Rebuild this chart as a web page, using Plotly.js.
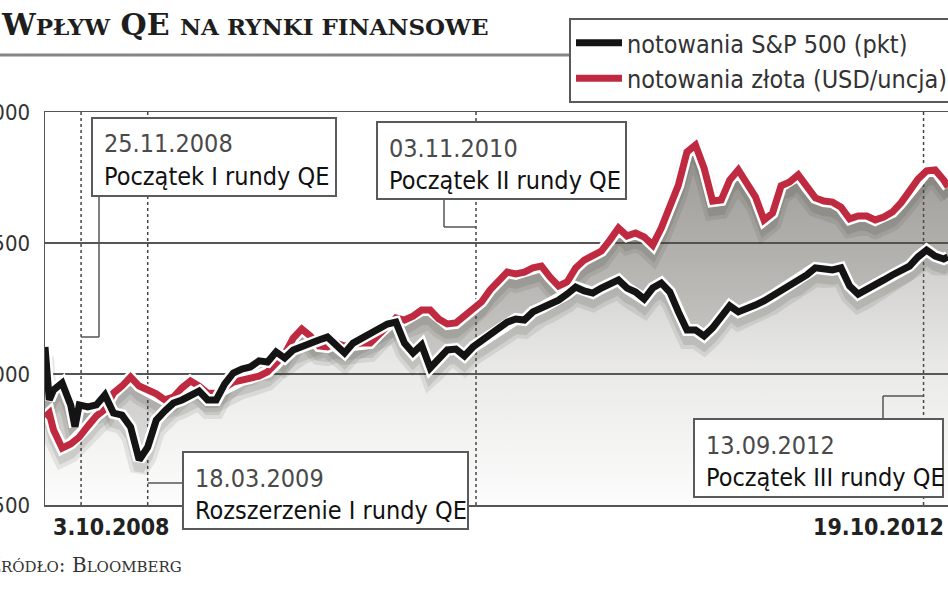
<!DOCTYPE html>
<html><head><meta charset="utf-8">
<script src="https://cdn.plot.ly/plotly-3.0.1.min.js"></script>
<style>html,body{margin:0;padding:0;background:#fff;overflow:hidden}#chart{width:948px;height:593px}</style>
</head><body><div id="chart"></div>
<script>
// ---------------- data ----------------
const dates = ['2008-10-03','2008-10-10','2008-10-17','2008-10-31','2008-11-14','2008-11-21','2008-11-28','2008-12-12','2008-12-26','2009-01-09','2009-01-23','2009-02-06','2009-02-20','2009-03-06','2009-03-20','2009-04-03','2009-04-17','2009-05-01','2009-05-15','2009-05-29','2009-06-12','2009-06-26','2009-07-10','2009-07-24','2009-08-07','2009-08-21','2009-09-04','2009-09-18','2009-10-02','2009-10-16','2009-10-30','2009-11-13','2009-11-27','2009-12-11','2009-12-25','2010-01-08','2010-01-22','2010-02-05','2010-02-19','2010-03-05','2010-03-19','2010-04-02','2010-04-16','2010-04-30','2010-05-14','2010-05-28','2010-06-11','2010-06-25','2010-07-09','2010-07-23','2010-08-06','2010-08-20','2010-09-03','2010-09-17','2010-10-01','2010-10-15','2010-10-29','2010-11-12','2010-11-26','2010-12-10','2010-12-24','2011-01-07','2011-01-21','2011-02-04','2011-02-18','2011-03-04','2011-03-18','2011-04-01','2011-04-15','2011-04-29','2011-05-13','2011-05-27','2011-06-10','2011-06-24','2011-07-08','2011-07-22','2011-08-05','2011-08-19','2011-09-02','2011-09-16','2011-09-30','2011-10-14','2011-10-28','2011-11-11','2011-11-25','2011-12-09','2011-12-23','2012-01-06','2012-01-20','2012-02-03','2012-02-17','2012-03-02','2012-03-16','2012-03-30','2012-04-13','2012-04-27','2012-05-11','2012-05-25','2012-06-08','2012-06-22','2012-07-06','2012-07-20','2012-08-03','2012-08-17','2012-08-31','2012-09-14','2012-09-28','2012-10-12','2012-10-19'];

const sp500 = [1103,901,939,966,882,798,882,874,882,920,851,843,798,672,721,824,859,889,901,920,935,901,901,962,1004,1019,1027,1050,1046,1084,1061,1092,1107,1122,1130,1141,1107,1080,1118,1137,1160,1176,1191,1198,1118,1080,1111,1023,1053,1092,1095,1069,1103,1126,1149,1168,1198,1210,1206,1237,1252,1267,1282,1305,1332,1317,1309,1328,1343,1359,1328,1313,1286,1328,1347,1313,1237,1168,1168,1145,1176,1214,1260,1237,1248,1263,1279,1298,1321,1343,1355,1378,1405,1401,1397,1405,1336,1305,1321,1343,1359,1378,1393,1412,1447,1473,1450,1439,1447];

const gold = [836,851,786,717,733,748,759,801,840,866,927,954,988,954,939,924,901,912,947,973,954,927,927,947,969,977,985,992,1008,1038,1076,1137,1172,1145,1107,1103,1118,1107,1114,1118,1118,1153,1183,1214,1206,1221,1244,1244,1210,1191,1195,1221,1252,1275,1321,1355,1389,1382,1389,1405,1412,1370,1336,1351,1405,1435,1450,1469,1511,1557,1527,1538,1523,1492,1557,1637,1721,1847,1874,1786,1660,1664,1740,1779,1721,1676,1588,1614,1718,1733,1760,1714,1672,1660,1656,1637,1592,1603,1603,1588,1599,1618,1653,1698,1744,1775,1779,1740,1714];

const seriesNames = ['notowania S&P 500 (pkt)', 'notowania złota (USD/uncja)'];
const yTicks = [500, 1000, 1500, 2000];
const xRange = ['2008-10-03', '2012-10-19'];
const xEndLabels = ['3.10.2008', '19.10.2012'];
const eventLines = ['2008-12-01', '2009-03-20', '2010-09-08', '2012-09-09'];
const eventDates = ['25.11.2008', '18.03.2009', '03.11.2010', '13.09.2012'];
const eventTexts = ['Początek I rundy QE', 'Rozszerzenie I rundy QE', 'Początek II rundy QE', 'Początek III rundy QE'];
const titleText = 'W<span style="font-size:23px">PŁYW</span> QE <span style="font-size:23px">NA RYNKI FINANSOWE</span>';
const sourceText = 'Ź<span style="font-size:15px">RÓDŁO</span>: B<span style="font-size:15px">LOOMBERG</span>';

// ---------------- layout helpers (pixel -> paper) ----------------
const PL = 45, PR = 948, PT = 112, PB = 505;
const px = x => (x - PL) / (PR - PL);
const py = y => (PB - y) / (PB - PT);
const t0 = Date.parse(xRange[0]), t1 = Date.parse(xRange[1]);
const dateToPaper = d => (Date.parse(d) - t0) / (t1 - t0);

const NARROW = "'DejaVu Sans Condensed', 'DejaVu Sans', sans-serif";
const SERIF = "'DejaVu Serif', serif";
const BLACK = '#141414', RED = '#bf2a40';

// ---------------- traces ----------------
const common = {x: dates, type: 'scatter', mode: 'lines', hoverinfo: 'skip', showlegend: false};
const traces = [
  Object.assign({}, common, {y: sp500, line: {width: 0, color: 'rgba(0,0,0,0)'}, fill: 'tozeroy',
    fillgradient: {type: 'vertical', start: 500, stop: 1500,
      colorscale: [[0, 'rgba(110,108,100,0.02)'], [0.5, 'rgba(110,108,100,0.14)'], [1, 'rgba(110,108,100,0.36)']]}}),
  Object.assign({}, common, {y: gold, line: {width: 0, color: 'rgba(0,0,0,0)'}, fill: 'tonexty',
    fillgradient: {type: 'vertical', start: 700, stop: 1900,
      colorscale: [[0, 'rgba(80,78,70,0.2)'], [1, 'rgba(80,78,70,0.58)']]}}),
  // soft shadows (drawn on a shifted, hidden axis)
  Object.assign({}, common, {y: gold, yaxis: 'y2', line: {width: 18, color: 'rgba(50,48,40,0.10)'}}),
  Object.assign({}, common, {y: gold, yaxis: 'y2', line: {width: 10, color: 'rgba(50,48,40,0.12)'}}),
  Object.assign({}, common, {y: sp500, yaxis: 'y2', line: {width: 18, color: 'rgba(50,48,40,0.10)'}}),
  Object.assign({}, common, {y: sp500, yaxis: 'y2', line: {width: 10, color: 'rgba(50,48,40,0.12)'}}),
  // halos and lines
  Object.assign({}, common, {y: gold, yaxis: 'y3', line: {width: 12, color: '#ffffff'}}),
  Object.assign({}, common, {y: gold, yaxis: 'y3', name: seriesNames[1], showlegend: true, legendrank: 2, legendgroup: 'g',
    line: {width: 7, color: RED}}),
  Object.assign({}, common, {y: sp500, yaxis: 'y3', line: {width: 12, color: '#ffffff'}}),
  Object.assign({}, common, {y: sp500, yaxis: 'y3', name: seriesNames[0], showlegend: true, legendrank: 1, legendgroup: 's',
    line: {width: 7, color: BLACK}})
];

// ---------------- shapes & annotations ----------------
const shapes = [];
const annotations = [];

// title rule
shapes.push({type: 'line', xref: 'paper', yref: 'paper', x0: px(-5), x1: px(569), y0: py(55), y1: py(55),
  line: {color: '#858585', width: 3}, layer: 'above'});

// event dashed lines
eventLines.forEach(d => shapes.push({type: 'line', xref: 'x', yref: 'paper', x0: d, x1: d, y0: 0, y1: 1,
  line: {color: '#454545', width: 1.5, dash: '3px,3px'}, layer: 'between'}));

// callout boxes (pixel rectangles) and leaders
const boxes = [
  {l: 92, t: 118, r: 336, b: 196},
  {l: 183, t: 452, r: 468, b: 529},
  {l: 377, t: 122, r: 626, b: 199},
  {l: 694, t: 419, r: 943, b: 497}
];
const leaders = [
  [[99, 196], [99, 337], ['e', 337]],
  [['e', 483], [183, 483]],
  [[444, 199], [444, 227], ['e', 227]],
  [[883, 419], [883, 396], ['e', 396]]
];
boxes.forEach((b, i) => {
  const ex = dateToPaper(eventLines[i]);
  const pts = leaders[i].map(p => [p[0] === 'e' ? ex : px(p[0]), py(p[1])]);
  for (let k = 0; k < pts.length - 1; k++) {
    shapes.push({type: 'line', xref: 'paper', yref: 'paper', x0: pts[k][0], y0: pts[k][1], x1: pts[k + 1][0], y1: pts[k + 1][1],
      line: {color: '#555', width: 1.5}, layer: 'above'});
  }
  shapes.push({type: 'rect', xref: 'paper', yref: 'paper', x0: px(b.l), x1: px(b.r), y0: py(b.b), y1: py(b.t),
    fillcolor: '#ffffff', line: {color: '#5a5a5a', width: 2}, layer: 'above'});
  annotations.push({xref: 'paper', yref: 'paper', x: px(b.l + 10), y: py(b.t + 26), xanchor: 'left', yanchor: 'middle',
    text: eventDates[i], showarrow: false, font: {family: NARROW, size: 25, color: '#4a4a4a'}});
  annotations.push({xref: 'paper', yref: 'paper', x: px(b.l + 10), y: py(b.t + 58), xanchor: 'left', yanchor: 'middle',
    text: eventTexts[i], showarrow: false, font: {family: NARROW, size: 25, color: '#111'}});
});

// axis end labels
annotations.push({xref: 'x', yref: 'paper', x: xRange[0], xanchor: 'left', xshift: 6, y: py(527), yanchor: 'middle',
  text: '<b>' + xEndLabels[0] + '</b>', showarrow: false, font: {family: NARROW, size: 23, color: '#222'}});
annotations.push({xref: 'x', yref: 'paper', x: xRange[1], xanchor: 'right', xshift: -2, y: py(527), yanchor: 'middle',
  text: '<b>' + xEndLabels[1] + '</b>', showarrow: false, font: {family: NARROW, size: 23, color: '#222'}});

// title
annotations.push({xref: 'paper', yref: 'paper', x: px(-1), y: py(24), xanchor: 'left', yanchor: 'middle',
  text: '<b>' + titleText + '</b>', showarrow: false, font: {family: SERIF, size: 30, color: '#1e1e1e'}});
// source
annotations.push({xref: 'paper', yref: 'paper', x: px(-15), y: py(565), xanchor: 'left', yanchor: 'middle',
  text: sourceText, showarrow: false, font: {family: SERIF, size: 20, color: '#333'}});

const layout = {
  width: 948, height: 593,
  margin: {l: PL, r: 948 - PR, t: PT, b: 593 - PB, pad: 0, autoexpand: false},
  paper_bgcolor: '#ffffff', plot_bgcolor: '#ffffff',
  showlegend: true,
  legend: {x: px(569), y: py(18), xanchor: 'left', yanchor: 'top', bgcolor: '#ffffff', bordercolor: '#5a5a5a', borderwidth: 2,
    traceorder: 'normal', tracegroupgap: 4, itemwidth: 46,
    font: {family: NARROW, size: 25, color: '#333'}, itemclick: false, itemdoubleclick: false},
  xaxis: {type: 'date', range: xRange, showgrid: false, showticklabels: false, ticks: '', zeroline: false,
    showline: true, mirror: true, linecolor: '#555', linewidth: 1.5, fixedrange: true},
  yaxis: {range: [500, 2000], tickvals: yTicks, ticktext: yTicks.map(String), showgrid: true, gridcolor: '#555', gridwidth: 1.5,
    zeroline: false, showline: true, linecolor: '#555', linewidth: 1.5, ticks: '', ticklabelstandoff: 9,
    tickfont: {family: NARROW, size: 22, color: '#333'}, fixedrange: true},
  yaxis2: {overlaying: 'y', range: [538, 2038], visible: false, fixedrange: true},
  yaxis3: {overlaying: 'y', range: [500, 2000], visible: false, fixedrange: true},
  shapes: shapes,
  annotations: annotations
};

Plotly.newPlot('chart', traces, layout, {displayModeBar: false, staticPlot: true});
</script>
</body></html>
